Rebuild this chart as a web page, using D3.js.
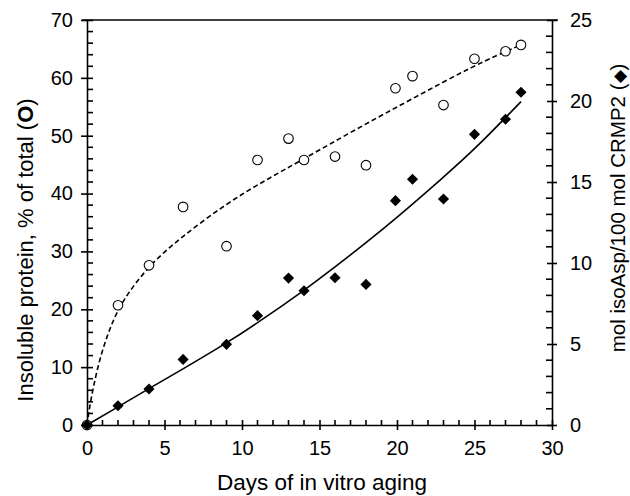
<!DOCTYPE html>
<html>
<head>
<meta charset="utf-8">
<title>Insoluble protein and isoAsp</title>
<style>
  body { margin: 0; background: #fff; }
  text { font-family: "Liberation Sans", Arial, sans-serif; fill: #000; }
</style>
</head>
<body>
<script src="https://d3js.org/d3.v7.min.js"></script>
<script>

// insoluble protein, % of total (open circles, left axis)
var insolDays  = [0, 2, 4, 6.2, 9, 11, 13, 14, 16, 18, 19.9, 21, 23, 25, 27, 28];
var insolVals  = [0, 20.7, 27.6, 37.7, 30.9, 45.8, 49.5, 45.8, 46.4, 44.9, 58.2, 60.3, 55.3, 63.3, 64.6, 65.7];

// mol isoAsp / 100 mol CRMP2 (filled diamonds, right axis)
var isoDays = [0, 2, 4, 6.2, 9, 11, 13, 14, 16, 18, 19.9, 21, 23, 25, 27, 28];
var isoVals = [0, 1.19, 2.22, 4.05, 4.98, 6.75, 9.07, 8.29, 9.09, 8.68, 13.85, 15.17, 13.95, 17.94, 18.87, 20.54];

// fitted curves
var insolFitDays = [0, 0.15, 0.4, 0.85, 1.5, 2.3, 4, 6, 9, 11.5, 14, 17.4, 21, 25, 28];
var insolFitVals = [0, 2.8, 6.5, 11.8, 17, 21.6, 27.6, 32.3, 38.3, 42.3, 46, 51.2, 56.4, 62.2, 65.7];
var isoFitDays = [0, 2, 4, 6, 9, 11, 14, 16, 18, 20, 23, 25, 28];
var isoFitVals = [0, 1.12, 2.25, 3.35, 5.05, 6.3, 8.3, 9.75, 11.25, 12.8, 15.3, 17.0, 19.96];

var xTicks = [0, 5, 10, 15, 20, 25, 30];
var leftTicks = [0, 10, 20, 30, 40, 50, 60, 70];
var rightTicks = [0, 5, 10, 15, 20, 25];

var width = 630, height = 496;
var plotLeft = 87, plotRight = 552, plotTop = 20, plotBottom = 425;

var svg = d3.select("body").append("svg")
    .attr("width", width)
    .attr("height", height);

var x = d3.scaleLinear().domain([0, 30]).range([plotLeft, plotRight]);
var yL = d3.scaleLinear().domain([0, 70]).range([plotBottom, plotTop]);
var yR = d3.scaleLinear().domain([0, 25]).range([plotBottom, plotTop]);

var axisW = 1.6;

// minor ticks (inside), drawn first
var minorX = d3.range(0, 31, 1).filter(function(d) { return d % 5 !== 0; });
svg.selectAll(".mx").data(minorX).enter().append("line")
    .attr("x1", function(d) { return x(d); }).attr("x2", function(d) { return x(d); })
    .attr("y1", plotBottom).attr("y2", plotBottom - 5)
    .attr("stroke", "#000").attr("stroke-width", axisW);

var minorL = d3.range(0, 71, 2).filter(function(d) { return d % 10 !== 0; });
svg.selectAll(".ml").data(minorL).enter().append("line")
    .attr("x1", plotLeft).attr("x2", plotLeft + 6)
    .attr("y1", function(d) { return yL(d); }).attr("y2", function(d) { return yL(d); })
    .attr("stroke", "#000").attr("stroke-width", axisW);

var minorR = d3.range(0, 26, 1).filter(function(d) { return d % 5 !== 0; });
svg.selectAll(".mr").data(minorR).enter().append("line")
    .attr("x1", plotRight).attr("x2", plotRight - 6)
    .attr("y1", function(d) { return yR(d); }).attr("y2", function(d) { return yR(d); })
    .attr("stroke", "#000").attr("stroke-width", axisW);

// main axes with crossing major ticks
function styleAxis(g) {
  g.attr("font-size", 20).attr("font-family", "Liberation Sans, Arial, sans-serif");
  g.selectAll("path").attr("stroke-width", axisW);
  g.selectAll("line").attr("stroke-width", axisW);
}

var gx = svg.append("g").attr("transform", "translate(0," + plotBottom + ")")
    .call(d3.axisBottom(x).tickValues(xTicks).tickSize(5).tickSizeOuter(0).tickPadding(11));
gx.selectAll(".tick line").attr("y1", -5);
styleAxis(gx);

var gl = svg.append("g").attr("transform", "translate(" + plotLeft + ",0)")
    .call(d3.axisLeft(yL).tickValues(leftTicks).tickSize(6).tickSizeOuter(0).tickPadding(8));
gl.selectAll(".tick line").attr("x1", 6);
styleAxis(gl);

var gr = svg.append("g").attr("transform", "translate(" + plotRight + ",0)")
    .call(d3.axisRight(yR).tickValues(rightTicks).tickSize(5).tickSizeOuter(0).tickPadding(13));
gr.selectAll(".tick line").attr("x1", -5);
styleAxis(gr);

// top frame line
svg.append("line")
    .attr("x1", plotLeft - 5).attr("x2", plotRight + 6)
    .attr("y1", plotTop).attr("y2", plotTop)
    .attr("stroke", "#000").attr("stroke-width", axisW);

// fitted curves
var lineL = d3.line().curve(d3.curveBasis)
    .x(function(d, i) { return x(insolFitDays[i]); })
    .y(function(d) { return yL(d); });
svg.append("path").attr("d", lineL(insolFitVals))
    .attr("fill", "none").attr("stroke", "#000")
    .attr("stroke-width", 1.6).attr("stroke-dasharray", "5,3");

var lineR = d3.line().curve(d3.curveBasis)
    .x(function(d, i) { return x(isoFitDays[i]); })
    .y(function(d) { return yR(d); });
svg.append("path").attr("d", lineR(isoFitVals))
    .attr("fill", "none").attr("stroke", "#000").attr("stroke-width", 1.6);

// open circles
svg.selectAll(".circ").data(insolVals).enter().append("circle")
    .attr("cx", function(d, i) { return x(insolDays[i]); })
    .attr("cy", function(d) { return yL(d); })
    .attr("r", 4.8)
    .attr("fill", "#fff").attr("stroke", "#000").attr("stroke-width", 1.1);

// filled diamonds
var diamond = d3.symbol().type(d3.symbolSquare).size(62);
svg.selectAll(".dia").data(isoVals).enter().append("path")
    .attr("d", diamond)
    .attr("transform", function(d, i) {
      return "translate(" + x(isoDays[i]) + "," + yR(d) + ") rotate(45)";
    })
    .attr("fill", "#000");

// axis titles
svg.append("text")
    .attr("x", 322).attr("y", 490)
    .attr("text-anchor", "middle").attr("font-size", 22.5)
    .text("Days of in vitro aging");

var tl = svg.append("text")
    .attr("transform", "translate(33,250) rotate(-90)")
    .attr("text-anchor", "middle").attr("font-size", 22);
tl.append("tspan").text("Insoluble protein, % of total (");
tl.append("tspan").attr("font-weight", "bold").text("O");
tl.append("tspan").text(")");

var tr = svg.append("text")
    .attr("transform", "translate(625,208) rotate(-90)")
    .attr("text-anchor", "middle").attr("font-size", 20.5);
tr.append("tspan").text("mol isoAsp/100 mol CRMP2 (");
tr.append("tspan").attr("font-size", 17).text("\u25C6");
tr.append("tspan").text(")");

</script>
</body>
</html>
